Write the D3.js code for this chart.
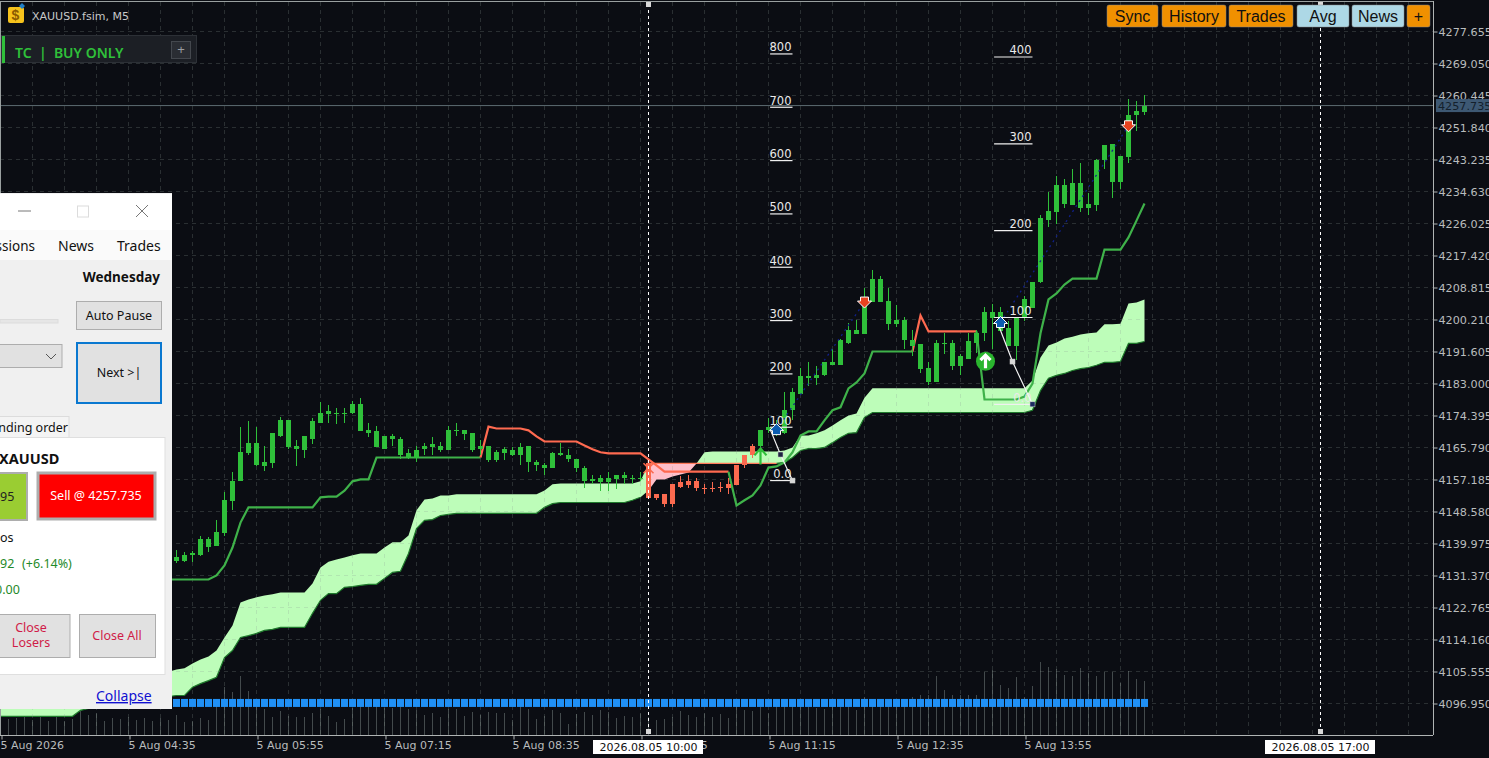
<!DOCTYPE html>
<html><head><meta charset="utf-8">
<style>html,body{margin:0;padding:0;background:#0b0d13;overflow:hidden}svg{display:block}</style>
<script src="https://d3js.org/d3.v7.min.js"></script></head><body>
<svg id="c" width="1489" height="758"></svg>
<script>
// ---- data: one entry per 5-minute bar ----
const symbol = "XAUUSD.fsim, M5";
const firstCandleBar = 22;
const candleTop = [4136.3,4137.0,4137.3,4141.1,4141.1,4143.2,4151.7,4156.9,4164.5,4166.9,4167.1,4162.0,4169.8,4173.1,4173.1,4166.1,4168.8,4172.8,4175.2,4175.5,4175.2,4175.2,4177.4,4177.6,4170.4,4170.1,4168.8,4168.8,4168.2,4164.2,4165.0,4166.3,4166.6,4166.1,4170.6,4170.6,4170.4,4169.6,4166.3,4166.3,4164.5,4165.3,4165.0,4165.8,4166.1,4162.0,4161.2,4164.2,4164.2,4163.9,4162.8,4160.2,4157.2,4157.5,4157.5,4158.3,4158.3,4157.7,4157.7,4161.5,4153.4,4153.4,4155.9,4156.4,4156.7,4156.7,4155.0,4155.0,4155.3,4156.1,4161.2,4163.9,4166.3,4170.6,4171.4,4171.7,4175.8,4180.6,4184.9,4184.9,4185.4,4188.9,4188.7,4194.6,4197.5,4197.5,4204.0,4211.2,4211.2,4205.1,4200.2,4200.2,4194.6,4193.5,4187.3,4193.8,4193.8,4193.8,4190.3,4194.3,4196.7,4202.1,4202.1,4202.1,4197.8,4200.8,4205.6,4210.4,4227.4,4229.3,4236.3,4236.3,4236.8,4236.8,4231.4,4243.0,4247.0,4247.3,4244.1,4255.3,4256.2,4257.5];
const candleBottom = [4135.3,4135.3,4137.0,4136.8,4138.9,4139.2,4142.9,4151.3,4156.9,4164.2,4161.0,4160.7,4161.5,4169.0,4165.8,4165.3,4165.0,4168.2,4172.5,4174.7,4174.9,4174.9,4175.2,4170.1,4169.8,4165.8,4165.5,4168.0,4163.9,4163.1,4163.1,4165.3,4165.8,4165.0,4165.0,4170.1,4169.3,4165.0,4165.3,4162.3,4162.3,4164.2,4163.9,4163.9,4161.8,4161.0,4160.2,4160.2,4163.9,4162.6,4160.2,4156.9,4156.9,4156.4,4156.4,4157.2,4157.5,4157.5,4157.5,4152.1,4152.1,4150.7,4150.7,4155.3,4155.6,4155.0,4154.8,4154.8,4154.8,4155.0,4155.6,4161.2,4163.7,4166.1,4170.4,4169.8,4169.8,4175.8,4180.3,4184.4,4184.4,4185.2,4188.1,4188.1,4194.0,4196.2,4196.2,4204.8,4204.8,4199.1,4199.1,4194.6,4193.2,4187.0,4183.5,4183.5,4193.5,4187.6,4187.6,4189.7,4194.0,4196.7,4200.5,4197.0,4193.0,4193.0,4200.8,4203.4,4210.2,4227.1,4229.0,4231.4,4231.1,4230.3,4230.3,4231.1,4243.0,4237.3,4237.3,4243.8,4255.1,4255.9];
const candleHigh = [4138.1,4137.6,4137.9,4141.9,4141.7,4146.2,4153.7,4159.3,4171.3,4172.8,4171.3,4166.3,4169.8,4173.9,4173.1,4167.7,4168.8,4173.6,4177.9,4177.1,4176.3,4176.3,4178.2,4179.2,4172.3,4171.7,4168.8,4169.3,4168.5,4165.3,4166.3,4166.9,4168.5,4167.4,4171.7,4172.5,4170.4,4169.6,4167.9,4166.3,4165.0,4165.8,4165.8,4166.9,4166.1,4162.3,4161.5,4164.7,4167.1,4165.3,4162.8,4160.7,4158.3,4158.3,4159.1,4158.5,4159.1,4158.3,4159.1,4161.8,4153.4,4153.4,4155.9,4158.0,4158.5,4157.7,4155.9,4156.4,4156.4,4157.5,4161.2,4163.9,4166.6,4170.6,4173.6,4173.1,4180.6,4181.7,4187.3,4188.7,4187.6,4188.9,4192.4,4195.1,4199.4,4200.0,4208.6,4213.4,4211.8,4208.8,4204.0,4200.8,4197.3,4193.5,4188.9,4194.8,4196.7,4194.8,4190.8,4196.7,4197.5,4203.7,4204.3,4203.7,4199.7,4200.8,4206.4,4210.4,4228.2,4234.6,4238.7,4238.1,4240.6,4242.2,4234.1,4243.5,4247.0,4247.3,4244.1,4259.4,4259.1,4260.7];
const candleLow = [4134.7,4135.0,4134.9,4136.5,4137.6,4139.2,4142.1,4148.9,4156.9,4163.9,4160.7,4159.6,4160.2,4168.5,4165.5,4160.7,4163.1,4166.6,4172.3,4172.3,4172.0,4172.5,4174.7,4170.1,4168.5,4165.8,4165.3,4166.1,4162.8,4162.6,4161.8,4163.9,4163.7,4164.5,4165.0,4168.8,4167.7,4164.5,4163.7,4161.8,4161.8,4162.3,4163.4,4161.0,4159.3,4159.6,4158.5,4160.2,4163.4,4161.8,4159.1,4154.8,4155.9,4154.2,4154.0,4154.5,4156.1,4156.1,4156.7,4152.1,4151.8,4149.9,4149.9,4154.8,4154.8,4154.2,4153.4,4153.7,4153.7,4153.4,4155.6,4160.4,4163.1,4165.8,4169.8,4169.0,4169.3,4173.1,4180.3,4182.2,4182.5,4184.9,4187.9,4188.1,4193.5,4196.2,4196.2,4204.8,4204.8,4197.3,4198.1,4192.4,4190.5,4185.9,4182.7,4183.5,4190.8,4186.5,4185.2,4189.7,4191.1,4194.3,4192.2,4197.0,4193.0,4189.2,4199.7,4203.2,4209.9,4225.2,4226.0,4230.1,4231.1,4229.0,4228.2,4229.3,4240.8,4232.8,4235.4,4242.2,4250.8,4255.1];
const redCandleBars = [81,94]; // first and last bar drawn in the bearish colour

const cloudTop = [4100.5,4100.5,4100.5,4100.5,4100.5,4100.5,4100.5,4100.5,4100.5,4100.5,4100.5,4100.5,4100.5,4100.5,4100.5,4101,4102,4103,4104,4104.5,4105,4105.5,
4106.1,4106.4,4107.7,4108.8,4109.6,4111.2,4114.7,4117.9,4124.1,4124.9,4125.5,4126.0,4126.3,4126.8,4126.8,4126.8,4126.8,4129.2,4133.5,4135.1,4135.7,4136.2,4136.8,4137.3,4137.3,4137.3,4138.9,4140.3,4140.3,4142.1,4148.9,4151.8,4152.1,4152.9,4152.9,4153.2,4153.2,
4153.2,4153.2,4153.2,4153.2,4153.2,4153.2,4153.2,4153.2,4153.2,4154.2,4155.9,4156.1,4156.1,4156.1,4156.1,4156.1,4156.1,4156.1,4156.1,4156.1,4156.1,4156.7,
4161.5,4161.5,4161.5,4161.5,4161.5,4161.5,4161.5,
4164.5,4164.7,4164.7,4164.7,4164.7,4164.7,4164.7,4164.7,4164.7,4164.7,4165.0,4165.8,4169.0,4169.0,4169.6,4170.4,4171.7,4173.1,4174.4,4174.9,4179.2,
4181.7,4181.7,4181.7,4181.7,4181.7,4181.7,4181.7,4181.7,4181.7,4181.7,4181.7,4181.7,4181.7,4181.7,4181.7,4181.7,4181.7,4181.7,4181.7,4181.7,
4183.8,4190.0,4193.2,4194.0,4195.1,4195.6,4196.2,4196.5,4196.7,4198.9,4198.9,4199.1,4204.5,4204.8,4205.6];
const cloudBottom = [4093.5,4093.5,4093.5,4093.5,4093.5,4093.5,4093.5,4093.5,4093.5,4093.5,4095.1,4095.6,4096.2,4096.4,4096.7,4097.0,4097.2,4097.8,4098.0,4098.3,4098.6,4098.8,
4099.1,4099.1,4101.3,4102.3,4103.1,4104.0,4109.3,4111.2,4114.7,4115.2,4115.8,4116.6,4116.9,4117.4,4117.4,4117.4,4117.4,4121.2,4124.7,4126.5,4126.5,4128.2,4128.4,4128.7,4129.0,4129.0,4130.6,4132.2,4132.5,4137.3,4144.0,4146.2,4146.4,4147.5,4147.8,4148.1,4148.1,
4148.1,4148.1,4148.1,4148.1,4148.1,4148.1,4148.1,4148.1,4148.1,4149.7,4150.7,4151.0,4151.0,4151.0,4151.0,4151.0,4151.0,4151.0,4151.0,4151.0,4151.6,4152.4,
4154.2,4157.2,4157.2,4158.0,4158.5,4159.1,4161.5,
4161.5,4161.5,4161.5,4161.5,4161.5,4161.5,4161.5,4161.5,4161.5,4161.5,4161.8,4163.1,4165.0,4165.5,4165.5,4165.8,4167.1,4168.5,4169.6,4169.8,4173.9,
4175.2,4175.2,4175.2,4175.2,4175.2,4175.2,4175.2,4175.2,4175.2,4175.2,4175.2,4175.2,4175.2,4175.2,4175.2,4175.2,4175.2,4175.2,4175.2,4175.2,
4175.8,4181.1,4184.4,4185.2,4185.7,4186.5,4187.0,4187.3,4187.9,4188.7,4188.7,4188.9,4193.8,4193.8,4194.3];
const pinkCloudBars = [81,87];

const firstTrendBar = 21;
const trendLine = [4130.3,4130.3,4130.3,4130.3,4130.3,4130.3,4131.4,4134.1,4138.9,4145.6,4149.7,4149.7,4149.7,4149.7,4149.7,4149.7,4149.7,4149.7,4149.7,4152.4,4152.6,4152.6,4154.2,4156.7,4157.2,4157.2,
4163.1,4163.1,4163.1,4163.1,4163.1,4163.1,4163.1,4163.1,4163.1,4163.1,4163.1,4163.1,4163.1,4163.1,
4171.4,4170.9,4170.9,4170.9,4170.9,4170.4,4168.8,4167.4,4167.4,4167.4,4167.4,4167.4,4166.3,4165.3,4164.5,4164.2,4164.2,4164.2,4164.2,4164.2,4162.6,4161.0,4159.3,4159.3,4159.3,4159.3,4159.3,4159.3,4159.3,4159.3,4159.3,
4150.2,4151.6,4152.9,4155.6,4160.4,4160.7,4161.8,4164.5,4169.0,4170.1,4170.1,4173.1,4175.8,4176.6,4181.7,4183.3,4185.7,4191.6,4191.6,4191.6,4191.6,4191.6,4191.6,
4201.3,4197.0,4197.0,4197.0,4197.0,4197.0,4197.0,4197.0,
4178.7,4178.7,4178.7,4178.7,4178.7,4179.5,4183.0,4196.5,4205.6,4207.2,4209.6,4211.2,4211.2,4211.2,4211.2,4219.0,4219.0,4219.0,4222.3,4226.8,4231.4];
const trendSegments = [[21,60,"up"],[60,91,"down"],[91,114,"up"],[114,122,"down"],[122,143,"up"]];

const firstVolumeBar = 1;
const volume = [16,17,20,15,18,14,20,14,16,25,20,22,14,17,16,18,15,17,14,17,15,
20,13,14,17,15,29,48,43,59,44,28,26,18,24,19,18,18,22,26,19,13,16,27,29,29,29,27,27,28,26,25,20,22,18,26,26,19,23,20,23,22,22,15,29,26,16,19,25,22,11,21,23,20,25,23,17,19,18,22,18,15,16,
18,24,20,18,22,18,21,17,30,25,24,28,22,30,36,30,34,28,27,26,30,28,33,25,38,32,34,30,28,
32,38,40,40,59,45,40,40,40,40,63,65,50,47,58,38,49,73,68,66,60,59,67,62,59,63,63,52,64,56,54];

const priceTicks = [4277.655,4269.05,4260.445,4251.84,4243.235,4234.63,4226.025,4217.42,4208.815,4200.21,4191.605,4183,4174.395,4165.79,4157.185,4148.58,4139.975,4131.37,4122.765,4114.16,4105.555,4096.95];
const timeTicks = [195,275,355,435,515,595,675,755,835];
const timeLabels = ["5 Aug 2026","5 Aug 04:35","5 Aug 05:55","5 Aug 07:15","5 Aug 08:35","5 Aug 09:55","5 Aug 11:15","5 Aug 12:35","5 Aug 13:55"];
const markerLines = [{t:600,label:"2026.08.05 10:00"},{t:1020,label:"2026.08.05 17:00"}];
const currentPrice = 4257.735;

const fibLevels1 = [0,100,200,300,400,500,600,700,800];
const fibLevels2 = [0,100,200,300,400];
const fib1 = {p0:4156.9,p100:4171.24,t0:676,t1:690};
const fib2 = {p0:4177.4,p100:4200.75,t0:816,t1:840};
const zig1 = [[676.3,4170.4],[682.5,4163.9],[690,4156.9]];
const zig2 = [[818.1,4199.4],[827.5,4188.9],[840,4177.4]];
const trades = [{t:680,p0:4170.6,t2:735,p2:4204.9},{t:820,p0:4199.4,t2:900,p2:4252.3}];
const buttons = [["Sync",1107,1158,"#f09000"],["History",1162,1226,"#f09000"],["Trades",1229,1293,"#f09000"],["Avg",1297,1349,"#add8e6"],["News",1352,1404,"#add8e6"],["+",1407,1430,"#f09000"]];

// ---- scales ----
const svg = d3.select("#c");
const barTime = n => 195 + 5*n;
const x = d3.scaleLinear().domain([195,1090]).range([0.5,1432.5]);
const y = d3.scaleLinear().domain([4277.655,4096.95]).range([31.5,703.5]);
const volY = d3.scaleLinear().domain([0,100]).range([735,635]);
const AXF = "'DejaVu Sans',sans-serif", UIF = "'Noto Sans','Open Sans',sans-serif", BTF = "'Liberation Sans',Arial,sans-serif";
const UP="#2fc03a", DOWN="#fb6a4f", LINEUP="#3fb24a", CLOUD="#bdfdb9", PINK="#ffc0cb", GRIDC="#8f9f98";

svg.append("rect").attr("width",1489).attr("height",758).attr("fill","#0b0d13");

// volumes
svg.append("g").selectAll("line").data(volume).join("line")
 .attr("x1",(d,i)=>x(barTime(firstVolumeBar+i))).attr("x2",(d,i)=>x(barTime(firstVolumeBar+i)))
 .attr("y1",volY(0)).attr("y2",d=>volY(d)).attr("stroke","#434a4c").attr("stroke-width",1);

// cloud
const bars = cloudTop.map((d,i)=>({n:i,top:d,bot:cloudBottom[i]}));
const area = d3.area().x(d=>x(barTime(d.n))).y0(d=>y(d.bot)).y1(d=>y(d.top));
const segG = [bars.slice(0,pinkCloudBars[0]+1),bars.slice(pinkCloudBars[1])];
svg.append("g").selectAll("path").data(segG).join("path").attr("d",area).attr("fill",CLOUD);
svg.append("path").attr("d",area(bars.slice(pinkCloudBars[0],pinkCloudBars[1]+1))).attr("fill",PINK);
const botLine = d3.line().x(d=>x(barTime(d.n))).y(d=>y(d.bot));
svg.append("g").selectAll("path").data([bars.slice(0,81),bars.slice(97)]).join("path").attr("d",botLine).attr("fill","none").attr("stroke","#1f7a2c").attr("stroke-width",1.2);
const kumoRed = bars.slice(81,98).map(d=>({n:d.n,bot:d.n<=87?d.top:d.bot}));
svg.append("path").attr("d",botLine(kumoRed)).attr("fill","none").attr("stroke","#ff7a5a").attr("stroke-width",1.2);

// grid (drawn above the cloud so that the dashes tint it)
const grid = svg.append("g").attr("stroke",GRIDC).attr("stroke-opacity",.24).attr("stroke-dasharray","4 4").attr("stroke-width",1);
grid.selectAll(".h").data(priceTicks).join("line").attr("class","h").attr("x1",0).attr("x2",1433).attr("y1",d=>y(d)).attr("y2",d=>y(d));
grid.selectAll(".v").data(d3.range(0,45)).join("line").attr("class","v").attr("x1",d=>x(barTime(d*4))).attr("x2",d=>x(barTime(d*4))).attr("y1",2).attr("y2",735);

// current price line
svg.append("line").attr("x1",0).attr("x2",1433).attr("y1",y(currentPrice)).attr("y2",y(currentPrice)).attr("stroke","#5c6b70");

// indicator strip
const stripBars = d3.range(22,144);
svg.append("g").selectAll("rect").data(stripBars).join("rect")
 .attr("x",d=>x(barTime(d))-3.5).attr("width",7).attr("y",y(4097.1)-4).attr("height",8).attr("fill","#2090f5");

// trend line
const trendPts = trendLine.map((d,i)=>({n:firstTrendBar+i,p:d}));
const tl = d3.line().x(d=>x(barTime(d.n))).y(d=>y(d.p));
svg.append("g").selectAll("path").data(trendSegments).join("path")
 .attr("d",s=>tl(trendPts.filter(d=>d.n>=s[0]&&d.n<=s[1]))).attr("fill","none")
 .attr("stroke",s=>s[2]=="up"?LINEUP:"#ff6a50").attr("stroke-width",2.2);

// candles
const candles = candleTop.map((d,i)=>({n:firstCandleBar+i,top:d,bot:candleBottom[i],hi:candleHigh[i],lo:candleLow[i]}));
const colr = d=>(d.n>=redCandleBars[0]&&d.n<=redCandleBars[1])?DOWN:UP;
const cg = svg.append("g").attr("shape-rendering","crispEdges");
cg.selectAll(".w").data(candles).join("line").attr("class","w")
 .attr("x1",d=>x(barTime(d.n))).attr("x2",d=>x(barTime(d.n))).attr("y1",d=>y(d.hi)).attr("y2",d=>y(d.lo)).attr("stroke",colr);
cg.selectAll(".b").data(candles).join("rect").attr("class","b")
 .attr("x",d=>x(barTime(d.n))-2.5).attr("width",5).attr("y",d=>y(d.top)).attr("height",d=>Math.max(1,y(d.bot)-y(d.top))).attr("fill",colr);

// trade links
svg.append("g").selectAll("line").data(trades).join("line")
 .attr("x1",d=>x(d.t)).attr("y1",d=>y(d.p0)).attr("x2",d=>x(d.t2)).attr("y2",d=>y(d.p2))
 .attr("stroke","#10208a").attr("stroke-dasharray","2 4").attr("stroke-width",1.3);

// fib levels
function fib(levels,f){
  const g = svg.append("g");
  const py = l=>y(f.p0+(f.p100-f.p0)*l/100);
  g.selectAll("line").data(levels).join("line").attr("x1",x(f.t0)).attr("x2",x(f.t1)).attr("y1",py).attr("y2",py).attr("stroke","#f0f0f0").attr("stroke-width",1.2);
  g.selectAll("text").data(levels).join("text").attr("x",x(f.t1)-1).attr("y",d=>py(d)-2.5).attr("text-anchor","end")
   .attr("font-family",AXF).attr("font-size",11.5).attr("fill","#eaeaea").text(d=>d==0?"0.0":d);
}
fib(fibLevels1,fib1); fib(fibLevels2,fib2);

// zig-zag measure lines
const zl = d3.line().x(d=>x(d[0])).y(d=>y(d[1]));
[zig1,zig2].forEach((z,i)=>{
  svg.append("path").attr("d",zl(z)).attr("fill","none").attr("stroke","#f4f4f4").attr("stroke-width",1.2);
});
const sq=[[zig1[1],"#1c2440"],[zig1[2],"#d8d8d8"],[zig2[1],"#d8d8d8"],[zig2[2],"#1c2a60"]];
svg.append("g").selectAll("rect").data(sq).join("rect").attr("x",d=>x(d[0][0])-2.5).attr("y",d=>y(d[0][1])-2.5).attr("width",5).attr("height",5).attr("fill",d=>d[1]).attr("stroke","#cfcfcf").attr("stroke-width",.5);

// arrows
const upHouse="M0,-6 L7,1 L4,1 L4,5 L-4,5 L-4,1 L-7,1 Z";
const downHouse="M0,6 L7,-1 L4,-1 L4,-5 L-4,-5 L-4,-1 L-7,-1 Z";
const am = svg.append("g").attr("stroke","#fff").attr("stroke-width",1).attr("stroke-linejoin","round");
trades.forEach(t=>{
  am.append("path").attr("transform",`translate(${x(t.t)},${y(t.p0)})`).attr("d",upHouse).attr("fill","#0b5cb0");
  am.append("path").attr("transform",`translate(${x(t.t2)},${y(t.p2)})`).attr("d",downHouse).attr("fill","#e8431f");
});
// buy arrow, thin
const ba = svg.append("g").attr("transform",`translate(${x(barTime(95))},${y(4163.4)})`).attr("fill","none").attr("stroke","#2fc03a").attr("stroke-width",2.2);
ba.append("path").attr("d","M0,8 V-8 M-6,-1 L0,-8 L6,-1");
// circled arrow
const ca = svg.append("g").attr("transform",`translate(${x(barTime(123))+1},${y(4189)})`);
ca.append("circle").attr("r",9.5).attr("fill","#2ab52e");
ca.append("path").attr("d","M0,7 V-6 M-5,-1 L0,-6 L5,-1").attr("fill","none").attr("stroke","#fff").attr("stroke-width",3.2);
// cross marker at the red start
const cm = svg.append("g").attr("transform",`translate(${x(barTime(81))},${y(4160.2)})`).attr("fill","none").attr("stroke","#fb6a4f").attr("stroke-width",1.6);
cm.append("path").attr("d","M-5,-5 L5,5 M5,-5 L-5,5 M0,-8 V8");

// vertical dashed markers
markerLines.forEach(m=>{
  svg.append("line").attr("x1",x(m.t)).attr("x2",x(m.t)).attr("y1",4).attr("y2",731).attr("stroke","#fff").attr("stroke-dasharray","3 3").attr("stroke-width",1);
  [4,731].forEach(v=>svg.append("rect").attr("x",x(m.t)-2.5).attr("y",v-2).attr("width",5).attr("height",5).attr("fill","#d8d8d8"));
});

// axes frame
svg.append("line").attr("x1",0).attr("x2",1433).attr("y1",1.5).attr("y2",1.5).attr("stroke","#9aa0a0");
svg.append("line").attr("x1",.5).attr("x2",.5).attr("y1",1).attr("y2",735).attr("stroke","#9aa0a0");
const ax = svg.append("g").attr("transform","translate(1433.5,0)").call(d3.axisRight(y).tickValues(priceTicks).tickSize(4).tickPadding(1).tickFormat(d3.format(".3f")));
ax.selectAll("text").attr("font-family",AXF).attr("font-size",11.2).attr("fill","#b9bcbd");
ax.selectAll("line").attr("stroke","#b0b4b4");
ax.select(".domain").attr("stroke","#b0b4b4").attr("d","M0,1V735");
const bx = svg.append("g").attr("transform","translate(1,735.5)").call(d3.axisBottom(x).tickValues(timeTicks).tickSize(4).tickPadding(0).tickFormat((d,i)=>timeLabels[i]));
bx.selectAll("text").attr("font-family",AXF).attr("font-size",11).attr("fill","#b9bcbd").attr("text-anchor","start").attr("dx",-1.5).attr("dy","0.9em");
bx.selectAll("line").attr("stroke","#b0b4b4");
bx.select(".domain").attr("stroke","#b0b4b4").attr("d","M-1,0H1432");

// time tags
markerLines.forEach(m=>{
  const cx=x(m.t);
  svg.append("rect").attr("x",cx-55.5).attr("y",740).attr("width",110).attr("height",14).attr("fill","#fff");
  svg.append("text").attr("x",cx).attr("y",751).attr("text-anchor","middle").attr("font-family",AXF).attr("font-size",11).attr("fill","#111").text(m.label);
});

// current price tag
svg.append("rect").attr("x",1436).attr("y",y(currentPrice)-6.5).attr("width",53).attr("height",13).attr("fill","#3d5873");
svg.append("text").attr("x",1438).attr("y",y(currentPrice)+4.5).attr("font-family",AXF).attr("font-size",11.2).attr("fill","#14202c").text(d3.format(".3f")(currentPrice));

// toolbar buttons
buttons.forEach(b=>{
  svg.append("rect").attr("x",b[1]).attr("y",5).attr("width",b[2]-b[1]).attr("height",22).attr("rx",2).attr("fill",b[3]).attr("stroke","#8a8a8a").attr("stroke-opacity",.5);
  svg.append("text").attr("x",(b[1]+b[2])/2).attr("y",22).attr("text-anchor","middle").attr("font-family",BTF).attr("font-size",16).attr("fill","#111").text(b[0]);
});

// symbol + panel top-left
svg.append("rect").attr("x",8).attr("y",7).attr("width",16).attr("height",16).attr("rx",2).attr("fill","#f6c21c");
svg.append("text").attr("x",15.5).attr("y",20).attr("text-anchor","middle").attr("font-family",BTF).attr("font-size",14).attr("font-weight","bold").attr("fill","#8a5a00").text("$");
svg.append("path").attr("d","M22,3 L25,6 L22,9 L19,6 Z").attr("fill","#1e7fc8");
svg.append("text").attr("x",32).attr("y",20).attr("font-family",AXF).attr("font-size",11).attr("fill","#c8c8c8").text(symbol);
svg.append("rect").attr("x",1.5).attr("y",35.5).attr("width",195).attr("height",27).attr("fill","#1c1f25").attr("stroke","#2c3036");
svg.append("rect").attr("x",2).attr("y",36).attr("width",3).attr("height",27).attr("fill","#2fc03a");
svg.append("text").attr("x",15).attr("y",58).attr("font-family",UIF).attr("font-size",14).attr("font-weight",600).attr("fill","#2fc03a").attr("xml:space","preserve").text("TC  |  BUY ONLY");
svg.append("rect").attr("x",171.5).attr("y",41.5).attr("width",19).attr("height",17).attr("fill","#2a2d33").attr("stroke","#44484e");
svg.append("text").attr("x",181).attr("y",54).attr("text-anchor","middle").attr("font-family",BTF).attr("font-size",13).attr("fill","#9a9da2").text("+");

// floating window
const w = svg.append("g");
w.append("rect").attr("x",0).attr("y",193).attr("width",172).attr("height",516).attr("fill","#f0f0f0");
w.append("rect").attr("x",0).attr("y",194).attr("width",172).attr("height",36).attr("fill","#ffffff");
w.append("rect").attr("x",0).attr("y",230).attr("width",172).attr("height",30).attr("fill","#fafafa");
w.append("line").attr("x1",18).attr("x2",31).attr("y1",211).attr("y2",211).attr("stroke","#777");
w.append("rect").attr("x",77.5).attr("y",206).attr("width",11).attr("height",11).attr("fill","none").attr("stroke","#dcdcdc");
w.append("path").attr("d","M136,205 L148,217 M148,205 L136,217").attr("stroke","#777").attr("fill","none");
const t=(s,xx,yy,o={})=>w.append("text").attr("x",xx).attr("y",yy).attr("font-family",o.f||UIF).attr("font-size",o.s||13.5).attr("font-weight",o.w||400).attr("fill",o.c||"#111").attr("text-anchor",o.a||"start").attr("text-decoration",o.d||null).text(s);
t("ssions",35,251,{a:"end",s:13.5});t("News",58,251,{s:14});t("Trades",117,251,{s:14});
t("Wednesday",160,282,{a:"end",w:700,s:13.5});
const btn=(x0,y0,wd,h,fill,st,sw)=>w.append("rect").attr("x",x0).attr("y",y0).attr("width",wd).attr("height",h).attr("fill",fill).attr("stroke",st).attr("stroke-width",sw||1);
btn(0,319.5,58,3.5,"#e6e6e6","#dcdcdc");
btn(76.5,301.5,85,28,"#e1e1e1","#adadad");t("Auto Pause",119,320,{a:"middle",s:12.5});
btn(-2,344.5,64,23,"#e1e1e1","#adadad");
w.append("path").attr("d","M46,354 L51,359 L56,354").attr("fill","none").attr("stroke","#555");
btn(77,343,84,60,"#e1e1e1","#0a78d0",2);t("Next  >|",119,377,{a:"middle",s:12.5});
btn(-2,416.5,71,21,"#f4f4f4","#dcdcdc");t("nding order",68,432,{a:"end",s:12.5});
btn(-2,437.5,167,237,"#ffffff","#dfdfdf");
t("XAUUSD",-1,464,{w:700,s:14.5});
btn(-2,473,29,47,"#9acd32","#adadad",2);t("95",0,501,{s:12.5,c:"#222"});
btn(38,473,117,46,"#ff0000","#adadad",3);t("Sell @ 4257.735",96,500,{a:"middle",s:12.5,c:"#fff"});
t("os",0,542,{s:12.5});
t("92",0,568,{s:12.5,c:"#1f8a2a"});t("(+6.14%)",22,568,{s:12.5,c:"#1f8a2a"});
t("0.00",-5,594,{s:12.5,c:"#1f8a2a"});
btn(-2,614.5,72,43,"#e1e1e1","#adadad");t("Close",31,632,{a:"middle",s:12.5,c:"#d01c48"});t("Losers",31,647,{a:"middle",s:12.5,c:"#d01c48"});
btn(79.5,614.5,76,43,"#e1e1e1","#adadad");t("Close All",117,640,{a:"middle",s:12.5,c:"#d01c48"});
t("Collapse",96,701,{s:14,c:"#1010d0",d:"underline"});
</script>
</body></html>
